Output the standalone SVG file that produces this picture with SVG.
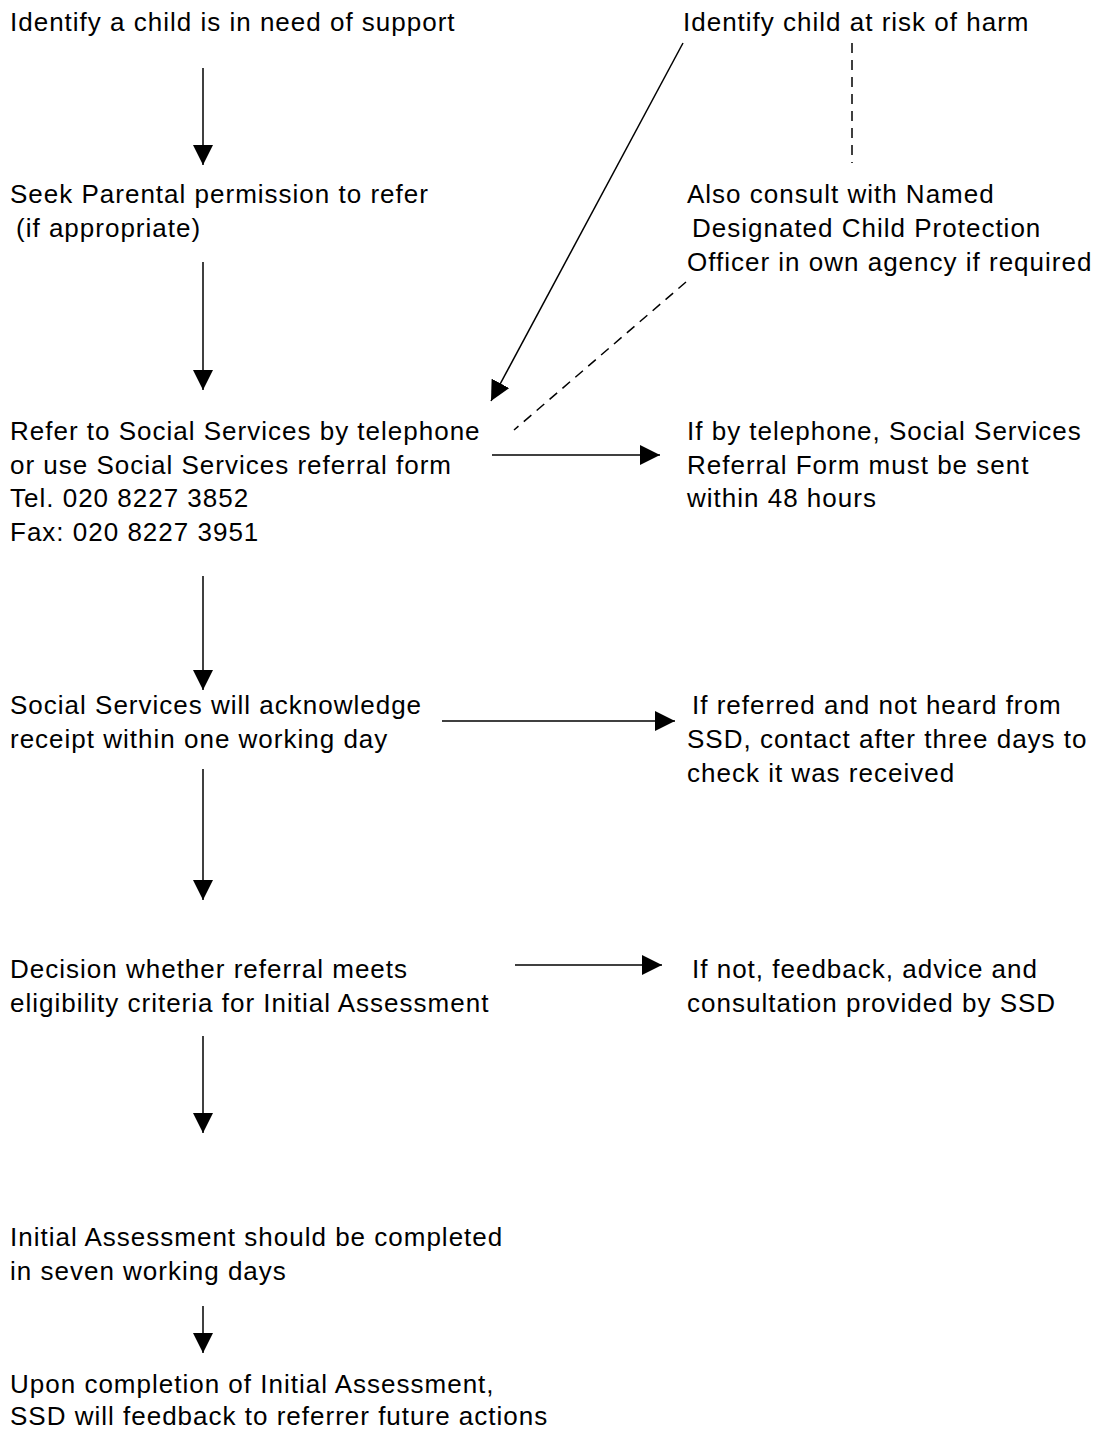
<svg xmlns="http://www.w3.org/2000/svg" width="1101" height="1431" viewBox="0 0 1101 1431">
<style>
text{font-family:"Liberation Sans",Arial,sans-serif;font-size:26px;letter-spacing:1px;fill:#000}
.ln{stroke:#000;stroke-width:1.5;fill:none}
.dash{stroke:#000;stroke-width:1.5;fill:none;stroke-dasharray:10 7}
</style>
<defs>
<marker id="ah" viewBox="0 0 20 20" refX="20" refY="10" markerWidth="20" markerHeight="20" markerUnits="userSpaceOnUse" orient="auto">
<path d="M0,0 L20,10 L0,20 Z" fill="#000"/>
</marker>
</defs>
<rect width="1101" height="1431" fill="#fff"/>
<g id="n1"><text x="10" y="31">Identify a child is in need of support</text></g>
<g id="n2"><text x="683" y="31">Identify child at risk of harm</text></g>
<g id="n3"><text x="10" y="203">Seek Parental permission to refer</text><text x="16" y="237">(if appropriate)</text></g>
<g id="n4"><text x="687" y="203">Also consult with Named</text><text x="692" y="237">Designated Child Protection</text><text x="687" y="271">Officer in own agency if required</text></g>
<g id="n5"><text x="10" y="440">Refer to Social Services by telephone</text><text x="10" y="474">or use Social Services referral form</text><text x="10" y="507">Tel. 020 8227 3852</text><text x="10" y="541">Fax: 020 8227 3951</text></g>
<g id="n6"><text x="687" y="440">If by telephone, Social Services</text><text x="687" y="474">Referral Form must be sent</text><text x="687" y="507">within 48 hours</text></g>
<g id="n7"><text x="10" y="714">Social Services will acknowledge</text><text x="10" y="748">receipt within one working day</text></g>
<g id="n8"><text x="692" y="714">If referred and not heard from</text><text x="687" y="748">SSD, contact after three days to</text><text x="687" y="782">check it was received</text></g>
<g id="n9"><text x="10" y="978">Decision whether referral meets</text><text x="10" y="1012">eligibility criteria for Initial Assessment</text></g>
<g id="n10"><text x="692" y="978">If not, feedback, advice and</text><text x="687" y="1012">consultation provided by SSD</text></g>
<g id="n11"><text x="10" y="1246">Initial Assessment should be completed</text><text x="10" y="1280">in seven working days</text></g>
<g id="n12"><text x="10" y="1393">Upon completion of Initial Assessment,</text><text x="10" y="1425">SSD will feedback to referrer future actions</text></g>
<g id="connectors">
<line class="ln" x1="203" y1="68" x2="203" y2="165" marker-end="url(#ah)"/>
<line class="ln" x1="203" y1="262" x2="203" y2="390" marker-end="url(#ah)"/>
<line class="ln" x1="203" y1="576" x2="203" y2="690" marker-end="url(#ah)"/>
<line class="ln" x1="203" y1="769" x2="203" y2="900" marker-end="url(#ah)"/>
<line class="ln" x1="203" y1="1036" x2="203" y2="1133" marker-end="url(#ah)"/>
<line class="ln" x1="203" y1="1306" x2="203" y2="1353" marker-end="url(#ah)"/>
<line class="ln" x1="492" y1="455" x2="660" y2="455" marker-end="url(#ah)"/>
<line class="ln" x1="442" y1="721" x2="675" y2="721" marker-end="url(#ah)"/>
<line class="ln" x1="515" y1="965" x2="662" y2="965" marker-end="url(#ah)"/>
<line class="ln" x1="683" y1="43" x2="491" y2="401" marker-end="url(#ah)"/>
<line class="dash" x1="686" y1="282" x2="514" y2="430"/>
<line class="dash" x1="852" y1="43" x2="852" y2="163"/>
</g>
</svg>
